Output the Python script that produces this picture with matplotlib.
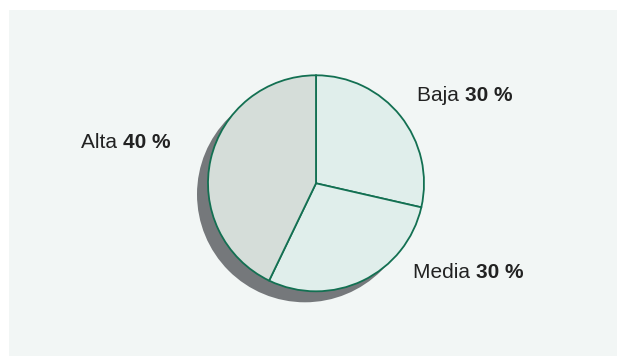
import matplotlib
matplotlib.use("Agg")
import matplotlib.pyplot as plt
from matplotlib.patches import Circle, Rectangle

# Data
categories = ["Baja", "Media", "Alta"]
pct_labels = [30, 30, 40]          # percentages printed in the labels
wedge_shares = [2, 2, 3]           # proportions of the drawn wedges
wedge_colors = ["#e0eeeb", "#e0eeeb", "#d5ddd9"]

# Label anchors (left, baseline) in figure pixels, y up
label_pos = {"Baja": (417, 255), "Media": (413, 78), "Alta": (81, 208)}

W, H = 617, 356
fig = plt.figure(figsize=(W / 100, H / 100), dpi=100)
fig.patch.set_facecolor("white")
ax = fig.add_axes([0, 0, 1, 1])

# Light panel behind the chart
ax.add_patch(Rectangle((9, 0), W - 9, H - 10, facecolor="#f2f6f5",
                       edgecolor="none", zorder=0))

center = (316, H - 183.3)
radius = 108

# Drop shadow
ax.add_patch(Circle((center[0] - 11, center[1] - 11), radius,
                    facecolor="#75787b", edgecolor="none", zorder=1))

wedges, _ = ax.pie(wedge_shares, colors=wedge_colors, startangle=90,
                   counterclock=False, center=center, radius=radius,
                   wedgeprops=dict(edgecolor="#137052", linewidth=1.3),
                   frame=True)
for w in wedges:
    w.set_zorder(2)
ax.set_xlim(0, W)
ax.set_ylim(0, H)
ax.set_aspect("equal")
ax.axis("off")

font = "Liberation Sans"
fs = 15
fig.canvas.draw()
renderer = fig.canvas.get_renderer()
for name, pct in zip(categories, pct_labels):
    x, y = label_pos[name]
    t = ax.text(x, y, name + " ", fontsize=fs, family=font, color="#222222",
                va="baseline", ha="left", zorder=3)
    bb = t.get_window_extent(renderer=renderer)
    x2 = ax.transData.inverted().transform((bb.x1, 0))[0]
    ax.text(x2, y, f"{pct} %", fontsize=fs, family=font, fontweight="bold",
            color="#222222", va="baseline", ha="left", zorder=3)

fig.savefig("out.png", dpi=100, facecolor=fig.get_facecolor())
